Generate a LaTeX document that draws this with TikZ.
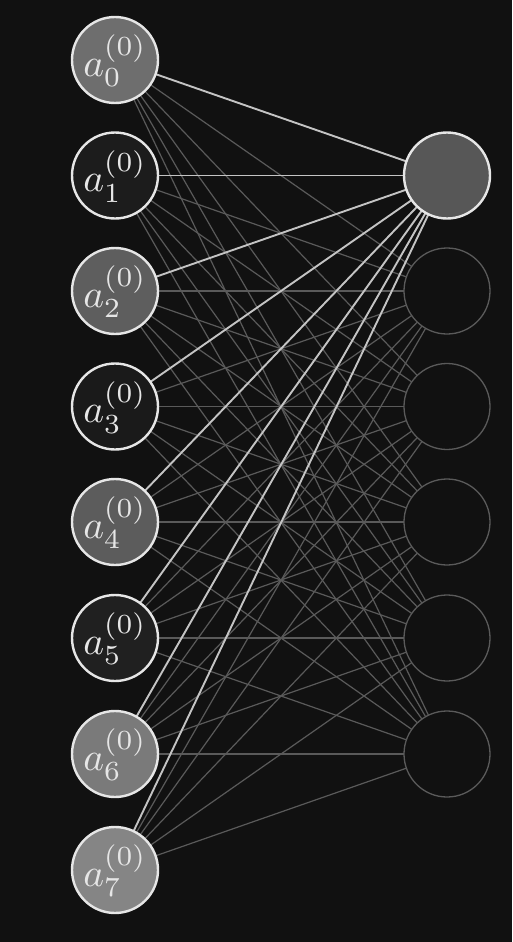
\documentclass[tikz,border=0pt]{standalone}
\usepackage{graphicx}
\usepackage{xcolor}
\definecolor{bg}{HTML}{111111}
\definecolor{thinedge}{HTML}{5A5A5A}
\definecolor{hotedge}{HTML}{C4C4C4}
\definecolor{ring}{HTML}{E6E6E6}
\definecolor{dimring}{HTML}{5A5A5A}
\newcommand{\biglabel}[1]{\scalebox{3.95}{$a_{#1}^{(0)}$}}
\begin{document}
\begin{tikzpicture}[x=1pt,y=-1pt,
  neuron/.style={circle,minimum size=86pt,inner sep=0pt,draw=ring,line width=2.4pt},
  lbl/.style={inner sep=0pt,text=ring},
  outn/.style={circle,minimum size=86pt,inner sep=0pt,draw=dimring,line width=1.3pt,fill=bg},
  hotn/.style={circle,minimum size=86pt,inner sep=0pt,draw=ring,line width=2.4pt,fill=black!66!white},
  wthin/.style={draw=thinedge,line width=1.2pt},
  whot/.style={draw=hotedge,line width=1.9pt}]
\fill[bg] (0,0) rectangle (512,942);
\useasboundingbox (0,0) rectangle (512,942);
% coordinates for nodes
\foreach \i/\y in {0/60,1/175.5,2/291,3/406.5,4/522,5/638,6/754,7/870}{
  \coordinate (L\i) at (115,\y);
}
\foreach \j/\y in {0/175.5,1/291,2/406.5,3/522,4/638,5/754}{
  \coordinate (R\j) at (447,\y);
}
% thin edges
\foreach \i in {0,...,7}{
  \foreach \j in {1,...,5}{
    \draw[wthin] (L\i) -- (R\j);
  }
}
% highlighted edges
\foreach \i in {0,...,7}{
  \draw[whot] (L\i) -- (R0);
}
% input neurons
\foreach \i/\c in {0/6E6E6E,1/1C1C1C,2/5E5E5E,3/1A1A1A,4/5C5C5C,5/202020,6/7A7A7A,7/858585}{
  \definecolor{nf}{HTML}{\c}
  \node[neuron,fill=nf] (n\i) at (L\i) {};
  \node[lbl] (t\i) at ([yshift=-1pt]n\i.center) {\biglabel{\i}};
}
% output neurons
\node[hotn] (o0) at (R0) {};
\foreach \j in {1,...,5}{
  \node[outn] (o\j) at (R\j) {};
}
\end{tikzpicture}
\end{document}
